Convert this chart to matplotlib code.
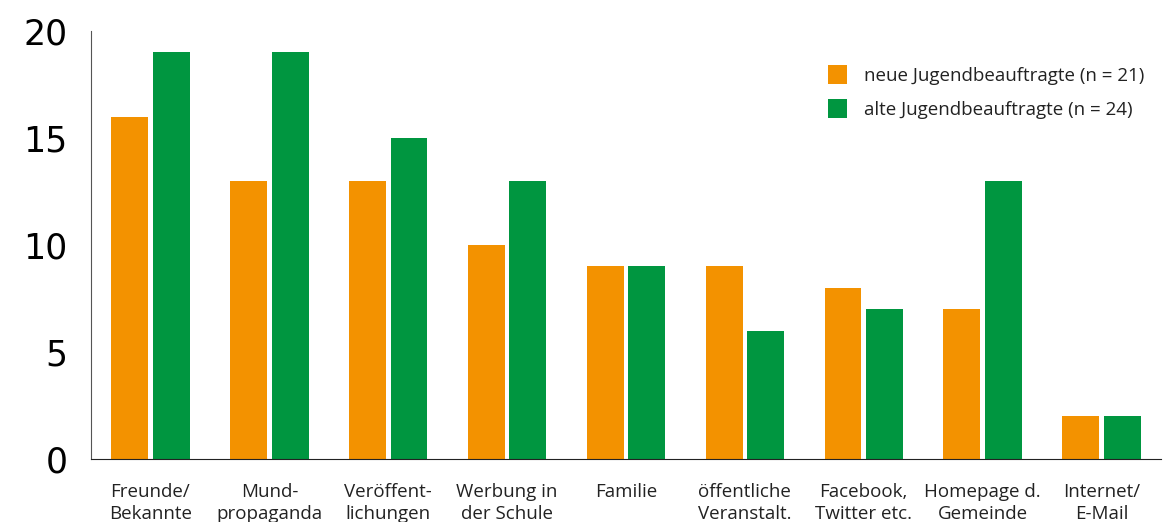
import numpy as np
import matplotlib.pyplot as plt

categories = ["Freunde/\nBekannte", "Mund-\npropaganda", "Veröffent-\nlichungen",
              "Werbung in\nder Schule", "Familie\n", "öffentliche\nVeranstalt.",
              "Facebook,\nTwitter etc.", "Homepage d.\nGemeinde", "Internet/\nE-Mail"]
neue = [16, 13, 13, 10, 9, 9, 8, 7, 2]
alte = [19, 19, 15, 13, 9, 6, 7, 13, 2]

plt.rcParams['font.family'] = ['Open Sans', 'DejaVu Sans']

fig = plt.figure(figsize=(11.73, 5.22), dpi=100)
ax = fig.add_axes([91 / 1173, 63 / 522, 1070 / 1173, 428 / 522])

x = np.arange(len(categories))
w = 0.31
ax.bar(x - 0.175, neue, w, color="#F39200", label="neue Jugendbeauftragte (n = 21)")
ax.bar(x + 0.175, alte, w, color="#009640", label="alte Jugendbeauftragte (n = 24)")

ax.set_xlim(-0.5, 8.5)
ax.set_ylim(0, 20)
ax.set_yticks([0, 5, 10, 15, 20])
ax.set_yticklabels(["0", "5", "10", "15", "20"], fontsize=25, family="DejaVu Sans")
ax.set_xticks(x)
ax.set_xticklabels(categories, fontsize=13.5, color="#222222", linespacing=1.3,
                   va="top", fontweight="medium")
ax.tick_params(axis="y", length=0, pad=17)
ax.tick_params(axis="x", length=0, pad=17)

for s in ["top", "right"]:
    ax.spines[s].set_visible(False)
ax.spines["left"].set_color("#555555")
ax.spines["bottom"].set_color("#222222")

leg = ax.legend(loc="upper right", bbox_to_anchor=(1.0, 0.96), frameon=False,
                fontsize=13.5, handlelength=1.0, handleheight=1.2,
                handletextpad=0.9, labelspacing=0.75)
for t in leg.get_texts():
    t.set_color("#222222")

plt.savefig("out.png", dpi=100)
